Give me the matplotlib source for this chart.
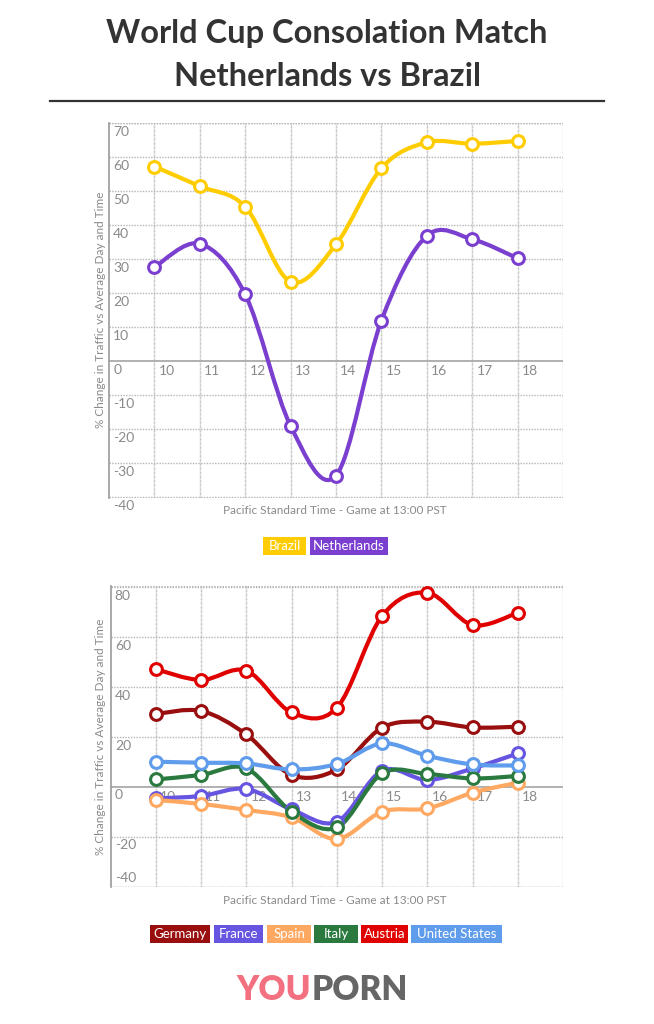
import numpy as np
import matplotlib
matplotlib.use("Agg")
import matplotlib.pyplot as plt
from matplotlib.path import Path
from matplotlib.patches import PathPatch, Rectangle

plt.rcParams['font.family'] = ['Lato', 'DejaVu Sans']

# ---------------- data ----------------
hours = [10, 11, 12, 13, 14, 15, 16, 17, 18]

brazil = [57.2, 51.4, 45.4, 23.3, 34.3, 56.7, 64.3, 63.9, 64.7]
netherlands = [27.6, 34.5, 19.6, -19.1, -33.7, 11.9, 36.8, 35.8, 30.2]

germany = [29.1, 30.3, 20.9, 4.7, 6.9, 23.6, 26.0, 23.7, 24.0]
france = [-4.7, -3.7, -0.9, -9.1, -14.0, 6.4, 2.7, 7.3, 13.3]
spain = [-5.3, -6.9, -9.3, -12.3, -20.9, -10.0, -8.7, -2.4, 1.6]
italy = [2.9, 4.7, 7.3, -10.0, -16.3, 5.3, 5.1, 3.3, 4.3]
austria = [47.0, 42.7, 46.4, 29.7, 31.6, 68.3, 77.6, 64.7, 69.6]
united_states = [10.0, 9.6, 9.3, 6.9, 9.1, 17.3, 12.4, 8.9, 8.5]

top_names = ["Brazil", "Netherlands"]
top_series = [brazil, netherlands]
top_colors = ["#FFCC00", "#7B3FD0"]

bot_names = ["Germany", "France", "Spain", "Italy", "Austria", "United States"]
bot_series = [germany, france, spain, italy, austria, united_states]
bot_colors = ["#990F0F", "#6655E0", "#FFA862", "#2A7A3F", "#E00000", "#5F9CEC"]

top_yticks = [70, 60, 50, 40, 30, 20, 10, 0, -10, -20, -30, -40]
bot_yticks = [80, 60, 40, 20, 0, -20, -40]

title_lines = ["World Cup Consolation Match", "Netherlands vs Brazil"]
xlabel = "Pacific Standard Time - Game at 13:00 PST"
ylabel = "% Change in Traffic vs Average Day and Time"

W, H = 654, 1024
fig = plt.figure(figsize=(W / 100, H / 100), dpi=100)

GRAY = "#8a8a8a"


def smooth_line(ax, xs, ys, color, lw=3.0, z=3):
    pts = np.column_stack([xs, ys]).astype(float)
    n = len(pts)
    tang = []
    for i in range(n):
        p0 = pts[i - 1] if i > 0 else pts[i]
        p2 = pts[i + 1] if i < n - 1 else pts[i]
        tang.append((p2 - p0) / 6.0)
    verts = [pts[0]]
    codes = [Path.MOVETO]
    for i in range(1, n):
        verts += [pts[i - 1] + tang[i - 1], pts[i] - tang[i], pts[i]]
        codes += [Path.CURVE4] * 3
    patch = PathPatch(Path(np.array(verts), codes), facecolor="none", edgecolor=color,
                      lw=lw, zorder=z, capstyle="round", joinstyle="round")
    ax.add_patch(patch)
    ax.plot(xs, ys, linestyle="none", marker="o", markersize=8.5,
            markerfacecolor="white", markeredgecolor=color,
            markeredgewidth=2.2, zorder=z + 0.5)


def setup_axes(rect, ymin, ymax, yticks):
    ax = fig.add_axes(rect)
    ax.set_xlim(9, 19)
    ax.set_ylim(ymin, ymax)
    ax.set_xticks([])
    ax.set_yticks([])
    for s in ["top", "right", "bottom"]:
        ax.spines[s].set_visible(False)
    ax.spines["left"].set_color("#999999")
    ax.spines["left"].set_linewidth(1.2)
    for v in yticks:
        if v == 0:
            ax.axhline(0, color="#aaaaaa", lw=1.3, zorder=1)
        else:
            ax.axhline(v, color="#b5b5b5", lw=1, ls=(0, (1, 1)), zorder=1)
    ax.axhline(ymin, color="#b5b5b5", lw=1, ls=(0, (1, 1)), zorder=1)
    ax.axhline(ymax, color="#b5b5b5", lw=1, ls=(0, (1, 1)), zorder=1)
    for h in hours:
        ax.axvline(h, color="#dddddd", lw=1, zorder=0.9)
        ax.axvline(h, color="#c5c5c5", lw=1, ls=(0, (1, 2)), zorder=0.95)
    ax.axvline(19, color="#b5b5b5", lw=1, ls=(0, (1, 1)), zorder=1)
    for v in yticks:
        if v == ymin:
            va, off = "bottom", 2
        else:
            va, off = "top", -2
        ax.annotate(str(v), xy=(9, v), xytext=(3, off), textcoords="offset points",
                    ha="left", va=va, fontsize=10, color=GRAY, zorder=2)
    for h in hours:
        ax.annotate(str(h), xy=(h, 0), xytext=(3, -3), textcoords="offset points",
                    ha="left", va="top", fontsize=10, color=GRAY, zorder=2)
    return ax


def legend_boxes(names, colors, y, xs):
    for (name, col, (x0, x1)) in zip(names, colors, xs):
        fig.patches.append(Rectangle((x0 / W, 1 - (y + 9) / H), (x1 - x0) / W, 18 / H,
                                     transform=fig.transFigure,
                                     facecolor=col, edgecolor="none"))
        fig.text((x0 + x1) / 2 / W, 1 - y / H, name, ha="center", va="center",
                 fontsize=9.5, color="white")


# ---------------- title ----------------
fig.text(0.5, 1 - 33 / H, title_lines[0], ha="center", va="center",
         fontsize=23.5, fontweight="bold", color="#333333")
fig.text(0.5, 1 - 76 / H, title_lines[1], ha="center", va="center",
         fontsize=23.5, fontweight="bold", color="#333333")
fig.add_artist(plt.Line2D([50 / W, 604 / W], [1 - 101 / H, 1 - 101 / H],
                          color="#333333", lw=1.6, transform=fig.transFigure))

# ---------------- top chart ----------------
ax1 = setup_axes([109 / W, 1 - 498 / H, 454 / W, 375 / H], -40.3, 70, top_yticks)
for s, c in zip(top_series, top_colors):
    smooth_line(ax1, hours, s, c)
fig.text(335 / W, 1 - 510 / H, xlabel, ha="center", va="center", fontsize=8.5, color=GRAY)
fig.text(101 / W, 1 - 310 / H, ylabel, ha="center", va="center", rotation=90,
         fontsize=8.5, color=GRAY)
legend_boxes(top_names, top_colors, 546, [(263, 306), (310, 388)])

# ---------------- bottom chart ----------------
ax2 = setup_axes([110.7 / W, 1 - 886.7 / H, 452.3 / W, 300.7 / H], -40, 80.3, bot_yticks)
for s, c in zip(bot_series, bot_colors):
    smooth_line(ax2, hours, s, c)
fig.text(335 / W, 1 - 900 / H, xlabel, ha="center", va="center", fontsize=8.5, color=GRAY)
fig.text(101 / W, 1 - 737 / H, ylabel, ha="center", va="center", rotation=90,
         fontsize=8.5, color=GRAY)
legend_boxes(bot_names, bot_colors, 934,
             [(150, 210), (214, 263), (267, 311), (314, 358), (361, 408), (411, 502)])

# ---------------- logo ----------------
fig.text(311 / W, 1 - 990 / H, "YOU", ha="right", va="center", fontsize=24,
         fontweight="heavy", color="#F2707F")
fig.text(312 / W, 1 - 990 / H, "PORN", ha="left", va="center", fontsize=24,
         fontweight="heavy", color="#666666")

fig.savefig("out.png", dpi=100)
